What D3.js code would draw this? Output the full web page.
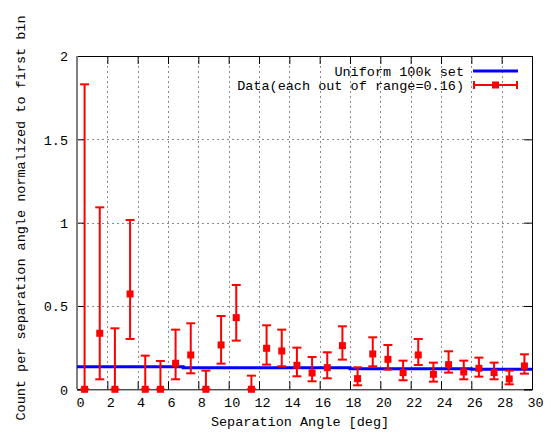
<!DOCTYPE html>
<html>
<head>
<meta charset="utf-8">
<script src="https://cdn.jsdelivr.net/npm/d3@7"></script>
<style>
  html, body { margin: 0; padding: 0; background: #fff; }
  svg { display: block; }
  text { font-family: "Liberation Mono", "DejaVu Sans Mono", monospace; fill: #000; }
</style>
</head>
<body>
<svg id="chart" width="550" height="432"></svg>
<script>
// Bin centres (deg)
const angles = [0.5, 1.5, 2.5, 3.5, 4.5, 5.5, 6.5, 7.5, 8.5, 9.5,
                10.5, 11.5, 12.5, 13.5, 14.5, 15.5, 16.5, 17.5, 18.5, 19.5,
                20.5, 21.5, 22.5, 23.5, 24.5, 25.5, 26.5, 27.5, 28.5, 29.5];
// Normalised counts with their error range
const counts = [0, 0.336, 0, 0.572, 0, 0, 0.156, 0.206, 0, 0.266,
                0.43, 0, 0.246, 0.23, 0.144, 0.098, 0.13, 0.262, 0.064, 0.212,
                0.18, 0.1, 0.206, 0.09, 0.148, 0.104, 0.126, 0.1, 0.062, 0.14];
const upper  = [1.83, 1.092, 0.366, 1.016, 0.202, 0.17, 0.358, 0.396, 0.112, 0.44,
                0.626, 0.082, 0.384, 0.358, 0.25, 0.194, 0.222, 0.378, 0.132, 0.312,
                0.266, 0.172, 0.302, 0.16, 0.228, 0.172, 0.19, 0.16, 0.112, 0.21];
const lower  = [0, 0.06, 0, 0.302, 0, 0, 0.06, 0.096, 0, 0.154,
                0.292, 0, 0.148, 0.138, 0.078, 0.048, 0.066, 0.178, 0.024, 0.138,
                0.118, 0.054, 0.146, 0.046, 0.1, 0.06, 0.076, 0.06, 0.03, 0.094];
// Uniform reference set as a step curve
const uniformEdges = [0, 7, 18, 26, 30];
const uniformVals  = [0.135, 0.13, 0.124, 0.12, 0.12];

const xTicks = [0, 2, 4, 6, 8, 10, 12, 14, 16, 18, 20, 22, 24, 26, 28, 30];
const yTicks = [0, 0.5, 1, 1.5, 2];
const yTickLabels = ["0", "0.5", "1", "1.5", "2"];

const legendLabels = ["Uniform 100k set", "Data(each out of range=0.16)"];
const xTitle = "Separation Angle [deg]";
const yTitle = "Count per separation angle normalized to first bin";

const L = 77, R = 532, T = 56, B = 389.3;
const svg = d3.select("#chart");
const x = d3.scaleLinear().domain([0, 30]).range([L, R]);
const y = d3.scaleLinear().domain([0, 2]).range([B, T]);

// grid
const grid = svg.append("g").attr("stroke", "#8a8a8a").attr("stroke-width", 1)
  .attr("stroke-dasharray", "2,3").attr("shape-rendering", "crispEdges");
grid.selectAll(".gx").data(xTicks.slice(1, -1)).join("line")
  .attr("x1", d => Math.round(x(d)) + 0.5).attr("x2", d => Math.round(x(d)) + 0.5)
  .attr("y1", T).attr("y2", B);
grid.selectAll(".gy").data(yTicks.slice(1, -1)).join("line")
  .attr("y1", d => Math.round(y(d)) + 0.5).attr("y2", d => Math.round(y(d)) + 0.5)
  .attr("x1", L).attr("x2", R);

// axes with inward ticks on all four sides
const tickLen = 8;
const axB = d3.axisBottom(x).tickValues(xTicks).tickSize(-tickLen).tickFormat(d => d);
const gB = svg.append("g").attr("transform", `translate(0,${B})`).call(axB);
gB.selectAll("text").attr("dy", null).attr("y", 18).attr("dx", 3).style("font-size", "13.5px");
const axT = d3.axisTop(x).tickValues(xTicks).tickSize(-tickLen).tickFormat("");
svg.append("g").attr("transform", `translate(0,${T})`).call(axT);
const axL = d3.axisLeft(y).tickValues(yTicks).tickSize(-tickLen).tickFormat((d, i) => yTickLabels[i]);
const gL = svg.append("g").attr("transform", `translate(${L},0)`).call(axL);
gL.selectAll("text").attr("x", -9).attr("dy", "0.35em").style("font-size", "13.5px");
const axR = d3.axisRight(y).tickValues(yTicks).tickSize(-tickLen).tickFormat("");
svg.append("g").attr("transform", `translate(${R},0)`).call(axR);
svg.selectAll(".domain").attr("stroke", "#000");
svg.selectAll(".tick line").attr("stroke", "#000");
svg.selectAll("g text").attr("fill", "#000").attr("font-family", null);
// left frame edge is drawn grey and a little heavier
svg.append("line").attr("x1", L).attr("x2", L).attr("y1", T).attr("y2", B)
  .attr("stroke", "#808080").attr("stroke-width", 2);

// uniform step line
const stepPts = uniformEdges.map((e, i) => [e, uniformVals[i]]);
svg.append("path").datum(stepPts)
  .attr("fill", "none").attr("stroke", "#0000ff").attr("stroke-width", 3)
  .attr("d", d3.line().x(d => x(d[0])).y(d => y(d[1])).curve(d3.curveStepAfter));

// error bars and points
const capW = 9, mk = 7;
const eb = svg.append("g").attr("stroke", "#ff0000").attr("stroke-width", 2).attr("fill", "#ff0000");
angles.forEach((a, i) => {
  const cx = x(a);
  eb.append("line").attr("x1", cx).attr("x2", cx).attr("y1", y(lower[i])).attr("y2", y(upper[i]));
  eb.append("line").attr("x1", cx - capW / 2).attr("x2", cx + capW / 2).attr("y1", y(upper[i])).attr("y2", y(upper[i]));
  eb.append("line").attr("x1", cx - capW / 2).attr("x2", cx + capW / 2).attr("y1", y(lower[i])).attr("y2", y(lower[i]));
  eb.append("rect").attr("x", cx - mk / 2).attr("y", y(counts[i]) - mk / 2)
    .attr("width", mk).attr("height", mk).attr("stroke", "none");
});

// legend
const lgX = 464, lg1 = 71, lg2 = 85;
svg.append("text").attr("x", lgX).attr("y", lg1).attr("dy", "0.35em")
  .attr("text-anchor", "end").style("font-size", "13.5px").text(legendLabels[0]);
svg.append("text").attr("x", lgX).attr("y", lg2).attr("dy", "0.35em")
  .attr("text-anchor", "end").style("font-size", "13.5px").text(legendLabels[1]);
svg.append("line").attr("x1", 473).attr("x2", 518).attr("y1", lg1).attr("y2", lg1)
  .attr("stroke", "#0000ff").attr("stroke-width", 3);
const lg = svg.append("g").attr("stroke", "#ff0000").attr("stroke-width", 2);
lg.append("line").attr("x1", 473).attr("x2", 518).attr("y1", lg2).attr("y2", lg2);
lg.append("line").attr("x1", 474).attr("x2", 474).attr("y1", lg2 - 4).attr("y2", lg2 + 4);
lg.append("line").attr("x1", 517).attr("x2", 517).attr("y1", lg2 - 4).attr("y2", lg2 + 4);
lg.append("rect").attr("x", 495.5 - mk / 2).attr("y", lg2 - mk / 2).attr("width", mk).attr("height", mk)
  .attr("fill", "#ff0000").attr("stroke", "none");

// axis titles
svg.append("text").attr("x", 300).attr("y", 426).attr("text-anchor", "middle")
  .style("font-size", "13.5px").text(xTitle);
svg.append("text").attr("transform", "translate(25,218) rotate(-90)")
  .attr("text-anchor", "middle").style("font-size", "13.5px").text(yTitle);
</script>
</body>
</html>
